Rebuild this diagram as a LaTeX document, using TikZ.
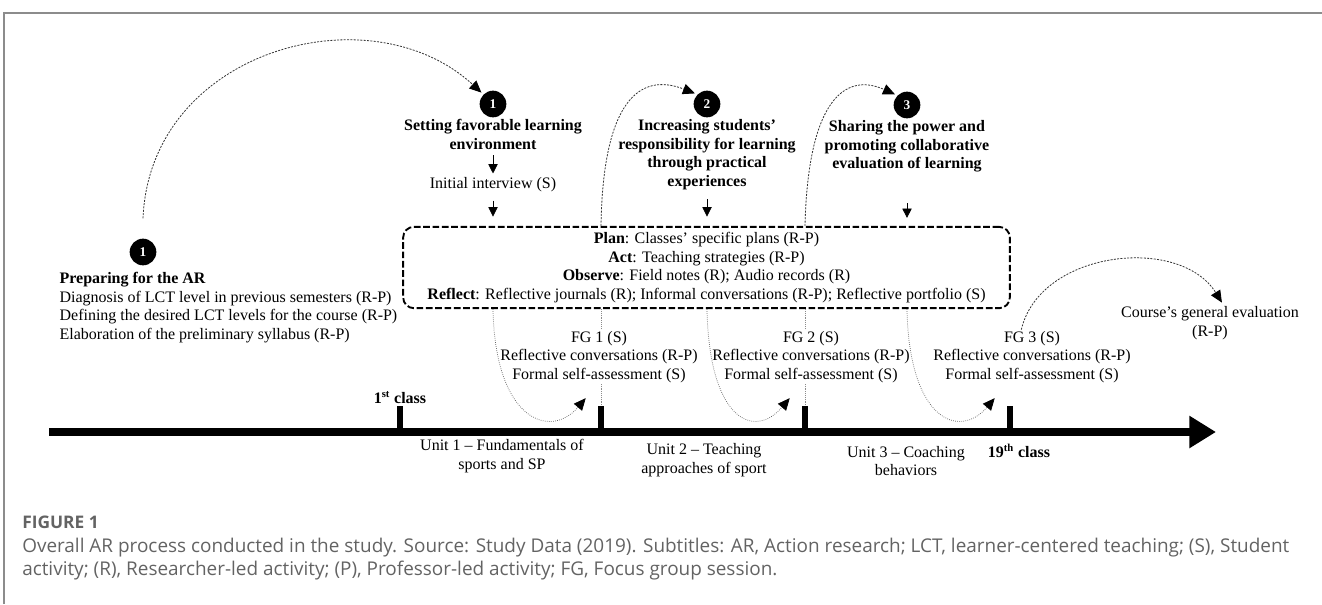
\documentclass[tikz,border=0pt]{standalone}
\usepackage{fontspec}
\setmainfont{Liberation Serif}
\newfontfamily\capfont{Open Sans}
\usetikzlibrary{arrows.meta}
\definecolor{capgray}{HTML}{636363}
\definecolor{framegray}{HTML}{8C8C8C}

\begin{document}
\begin{tikzpicture}[x=0.75pt, y=-0.75pt,
  stepnum/.style = {circle, fill=black, text=white, inner sep=0pt,
                    minimum size=20pt, font=\fontsize{10}{10}\selectfont\bfseries},
  stage/.style   = {align=center, inner sep=1pt,
                    font=\fontsize{12}{13.9}\selectfont\bfseries},
  txt/.style     = {align=center, inner sep=1pt,
                    font=\fontsize{12}{13.9}\selectfont},
  arbox/.style   = {draw, dash pattern=on 5pt off 2pt, line width=1.4pt,
                    rounded corners=8pt, minimum width=455pt,
                    minimum height=61pt, align=center,
                    font=\fontsize{12}{13.9}\selectfont},
  tickbar/.style = {fill=black, inner sep=0pt, minimum width=4.5pt,
                    minimum height=19pt},
  darr/.style    = {-{Triangle[length=7pt,width=7pt]}, line width=0.5pt},
  jarr/.style    = {-{Triangle[length=9pt,width=8pt,color=black]},
                    dash pattern=on 1.5pt off 1pt, line width=0.6pt, black!80},
  barr/.style    = {-{Triangle[length=9pt,width=8pt,color=black]},
                    densely dotted, line width=0.55pt, black!60},
]
\useasboundingbox (0,0) rectangle (1322,604);

% journal frame
\draw[framegray, line width=1pt] (4,604) -- (4,13) -- (1322,13);

% preparation step
\node[stepnum] (n0) at (143,252) {1};
\node[txt, anchor=north west, align=left] (prep) at (58,271)
  {\textbf{Preparing for the AR}\\
   Diagnosis of LCT level in previous semesters (R-P)\\
   Defining the desired LCT levels for the course (R-P)\\
   Elaboration of the preliminary syllabus (R-P)};

% the three stages
\node[stepnum] (n1) at (493,104) {1};
\node[stepnum] (n2) at (707,104) {2};
\node[stepnum] (n3) at (907,105) {3};
\node[stage, anchor=north] (t1) at (493,118)
  {Setting favorable learning\\environment};
\node[stage, anchor=north] (t2) at (707,118)
  {Increasing students'\\responsibility for learning\\through practical\\experiences};
\node[stage, anchor=north] (t3) at (907,119)
  {Sharing the power and\\promoting collaborative\\evaluation of learning};
\node[txt] (intv) at (493,185) {Initial interview (S)};

\node[arbox] (plan) at (706.5,267.5)
  {\textbf{Plan}: Classes' specific plans (R-P)\\
   \textbf{Act}: Teaching strategies (R-P)\\
   \textbf{Observe}: Field notes (R); Audio records (R)\\
   \textbf{Reflect}: Reflective journals (R); Informal conversations (R-P); Reflective portfolio (S)};

\draw[darr, shorten <=3pt, shorten >=2pt] (t1) -- (intv);
\draw[darr, shorten <=5pt, shorten >=7pt] (intv) -- (intv |- plan.north);
\draw[darr, shorten <=6pt, shorten >=7pt] (t2) -- (t2 |- plan.north);
\draw[darr, shorten <=22pt, shorten >=6pt] (t3) -- (t3 |- plan.north);

% timeline
\coordinate (tl0) at (49,432);
\coordinate (tl1) at (1216,432);
\draw[line width=6.4pt, -{Triangle[length=20pt,width=23pt]}] (tl0) -- (tl1);
\node[tickbar, anchor=south] (k1) at (400,432) {};
\node[tickbar, anchor=south] (k2) at (601,432) {};
\node[tickbar, anchor=south] (k3) at (805,432) {};
\node[tickbar, anchor=south] (k4) at (1010,432) {};

\node[stage, anchor=south] (c1) at ([yshift=1pt]k1.north) {1\textsuperscript{st} class};
\node[stage] (c19) at (1019,451) {19\textsuperscript{th} class};
\node[txt] (u1) at (502,456) {Unit 1 -- Fundamentals of\\sports and SP};
\node[txt] (u2) at (704,460) {Unit 2 -- Teaching\\approaches of sport};
\node[txt] (u3) at (906,461) {Unit 3 -- Coaching\\behaviors};

% focus groups
\draw[black!45, densely dotted, line width=0.4pt] (plan.south -| k2) -- (k2.north);
\draw[black!45, densely dotted, line width=0.4pt] (plan.south -| k3) -- (k3.north);
\node[txt, fill=white] (fg1) at (599,357)
  {FG 1 (S)\\Reflective conversations (R-P)\\Formal self-assessment (S)};
\node[txt, fill=white] (fg2) at (811,357)
  {FG 2 (S)\\Reflective conversations (R-P)\\Formal self-assessment (S)};
\node[txt, fill=white] (fg3) at (1032,357)
  {FG 3 (S)\\Reflective conversations (R-P)\\Formal self-assessment (S)};
\node[txt] (eval) at (1210,323) {Course's general evaluation\\(R-P)};

% dashed jumps between stages
\draw[jarr, shorten >=2pt] ([yshift=15pt]n0.north)
  .. controls (150,50) and (370,-10) .. (n1.north west);
\draw[jarr, shorten >=2pt] (plan.north -| k2)
  .. controls (603,100) and (640,72) .. (n2.north west);
\draw[jarr, shorten >=2pt] (plan.north -| k3)
  .. controls (808,100) and (845,72) .. (n3.north west);
\draw[jarr, shorten >=2pt] ([xshift=-8pt]fg3.north)
  .. controls (1040,250) and (1180,235) .. ([xshift=10pt]eval.north);

% returns to the timeline
\draw[barr] (plan.south -| n1) .. controls (495,420) and (550,440)
  .. ([shift={(-9pt,6pt)}]k2.north west);
\draw[barr] (plan.south -| n2) .. controls (709,420) and (754,440)
  .. ([shift={(-9pt,6pt)}]k3.north west);
\draw[barr] (plan.south -| n3) .. controls (909,420) and (959,440)
  .. ([shift={(-9pt,6pt)}]k4.north west);

% caption
\node[anchor=west, inner sep=0pt, text=capgray,
      font=\capfont\fontsize{13}{14}\selectfont\bfseries]
  (fig) at (22,522) {FIGURE 1};
\node[anchor=north west, inner sep=0pt, align=left, text=capgray,
      font=\capfont\fontsize{14.2}{17}\selectfont] (cap) at (22,538)
  {Overall AR process conducted in the study. Source: Study Data (2019). Subtitles: AR, Action research; LCT, learner-centered teaching; (S), Student\\
   activity; (R), Researcher-led activity; (P), Professor-led activity; FG, Focus group session.};
\end{tikzpicture}
\end{document}
